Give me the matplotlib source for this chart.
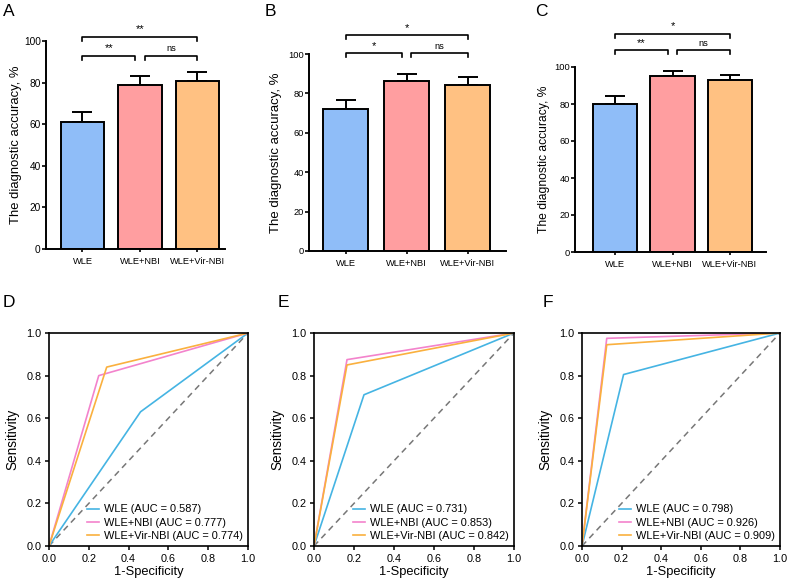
import matplotlib
matplotlib.use('Agg')
import matplotlib.pyplot as plt

plt.rcParams['font.family'] = ['Liberation Sans', 'DejaVu Sans']

groups = ['WLE', 'WLE+NBI', 'WLE+Vir-NBI']
bar_colors = ['#8fbdf8', '#ff9ea0', '#ffc182']

# diagnostic accuracy (%) and SE for panels A, B, C
acc_A = [61, 79, 81]
err_A = [5, 4, 4]
acc_B = [72, 86.4, 84.4]
err_B = [4.5, 3.4, 3.8]
acc_C = [80, 95.3, 92.8]
err_C = [4.1, 2.5, 2.7]

sig_A = ['**', 'ns', '**']   # WLE vs NBI, NBI vs Vir, WLE vs Vir
sig_B = ['*', 'ns', '*']
sig_C = ['**', 'ns', '*']

# ROC operating points (1-specificity, sensitivity)
roc_D = {'WLE': (0.46, 0.63), 'WLE+NBI': (0.25, 0.80), 'WLE+Vir-NBI': (0.29, 0.84)}
roc_E = {'WLE': (0.25, 0.71), 'WLE+NBI': (0.165, 0.875), 'WLE+Vir-NBI': (0.165, 0.85)}
roc_F = {'WLE': (0.21, 0.805), 'WLE+NBI': (0.125, 0.975), 'WLE+Vir-NBI': (0.125, 0.945)}
auc_D = [0.587, 0.777, 0.774]
auc_E = [0.731, 0.853, 0.842]
auc_F = [0.798, 0.926, 0.909]
line_colors = ['#45b4e3', '#f383cc', '#fab03e']

W, H = 790, 585
fig = plt.figure(figsize=(W / 100, H / 100), dpi=100)


def px_axes(l, r, t, b):
    return fig.add_axes([l / W, 1 - b / H, (r - l) / W, (b - t) / H])


def bar_panel(ax, acc, err, sig, xlim, width, ylow, ytop, tick, fs_tick, fs_lab, lpad):
    x = list(range(len(groups)))
    ax.bar(x, acc, width=width, color=bar_colors, edgecolor='black', linewidth=1.4, zorder=2)
    ax.errorbar(x, acc, yerr=[[0] * len(err), err], fmt='none', ecolor='black',
                elinewidth=1.4, capsize=7, capthick=1.4, zorder=1)
    ax.set_xlim(*xlim)
    ax.set_ylim(0, 100)
    ax.set_yticks([0, 20, 40, 60, 80, 100])
    ax.set_xticks(x)
    ax.set_xticklabels(groups, fontsize=6.7)
    ax.tick_params(axis='x', length=2.5, width=1.2, pad=3)
    ax.tick_params(axis='y', labelsize=fs_tick, length=3, width=1.2, pad=0.8)
    for s in ['top', 'right']:
        ax.spines[s].set_visible(False)
    for s in ['left', 'bottom']:
        ax.spines[s].set_linewidth(1.4)
    ax.set_ylabel('The diagnostic accuracy, %', fontsize=fs_lab, labelpad=lpad)
    g = 0.08
    spans = [(0, 1 - g, ylow), (1 + g, 2, ylow), (0, 2, ytop)]
    for (x0, x1, y), lab in zip(spans, sig):
        ax.plot([x0, x0, x1, x1], [y - tick, y, y, y - tick], color='black', lw=1.2,
                clip_on=False)
        ax.text((x0 + x1) / 2, y + tick * 0.6, lab, ha='center', va='bottom',
                fontsize=6.7 if lab == 'ns' else 8, clip_on=False)


def roc_panel(ax, roc, auc):
    ax.plot([0, 1], [0, 1], color='#777777', lw=1.1, ls=(0, (4, 3)))
    for (name, (fx, ty)), a, c in zip(roc.items(), auc, line_colors):
        ax.plot([0, fx, 1], [0, ty, 1], color=c, lw=1.2,
                label=f'{name} (AUC = {a:.3f})')
    ax.set_xlim(0, 1)
    ax.set_ylim(0, 1)
    ticks = [0.0, 0.2, 0.4, 0.6, 0.8, 1.0]
    ax.set_xticks(ticks)
    ax.set_yticks(ticks)
    ax.set_xticklabels([f'{t:.1f}' for t in ticks])
    ax.set_yticklabels([f'{t:.1f}' for t in ticks])
    ax.tick_params(labelsize=7.8, length=3, width=1.1, pad=2.5)
    for s in ax.spines.values():
        s.set_linewidth(1.2)
    ax.set_xlabel('1-Specificity', fontsize=9.3, labelpad=1.5)
    ax.set_ylabel('Sensitivity', fontsize=9.8, labelpad=5)
    ax.legend(loc='lower right', frameon=False, fontsize=7.9, handlelength=1.1,
              borderaxespad=0.05, labelspacing=0.3, handletextpad=0.45)


axA = px_axes(46, 225, 41, 249)
bar_panel(axA, acc_A, err_A, sig_A, (-0.635, 2.48), 0.75, 92.8, 102, 2.0, 7.3, 9.4, 1)
axB = px_axes(309, 506, 54, 251)
bar_panel(axB, acc_B, err_B, sig_B, (-0.6, 2.63), 0.74, 100.5, 109.6, 2.0, 6.7, 9.5, 4)
axC = px_axes(575, 766, 67, 252)
bar_panel(axC, acc_C, err_C, sig_C, (-0.7, 2.63), 0.77, 109, 118, 2.2, 6.7, 8.7, 3)

axD = px_axes(49, 248, 333, 546)
roc_panel(axD, roc_D, auc_D)
axE = px_axes(314, 514, 333, 546)
roc_panel(axE, roc_E, auc_E)
axF = px_axes(582, 780, 333, 546)
roc_panel(axF, roc_F, auc_F)

for lab, x, y in [('A', 3, 12), ('B', 265, 12), ('C', 535, 12),
                  ('D', 3, 302), ('E', 278, 302), ('F', 543, 302)]:
    fig.text(x / W, 1 - y / H, lab, fontsize=12.5, ha='left', va='center')

fig.savefig('out.png', dpi=100)
